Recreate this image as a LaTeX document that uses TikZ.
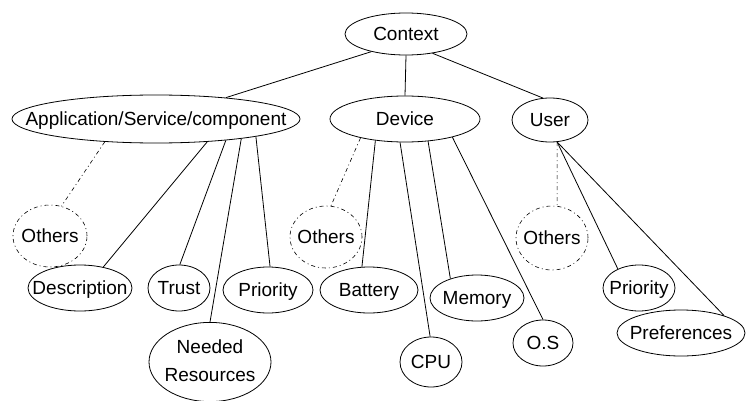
\documentclass[tikz,border=0pt]{standalone}
\usepackage{fontspec}
\setmainfont{Liberation Sans}
\usetikzlibrary{shapes.geometric}
\newcommand\zw[1]{\makebox[0pt][c]{#1}}
\begin{document}
\begin{tikzpicture}[x=1pt,y=-1pt,
  nd/.style={draw, ellipse, inner sep=0pt, line width=0.8pt, font=\fontsize{19}{28}\selectfont},
  one/.style={nd, text height=13.6pt, text depth=0pt},
  oth/.style={one, line width=0.6pt, dash pattern=on 4pt off 3pt on 1pt off 3pt},
  edge/.style={line width=0.8pt},
  dedge/.style={line width=0.6pt, dash pattern=on 4pt off 3pt on 1pt off 3pt}]
\useasboundingbox (0,0) rectangle (746,401);
% level 0
\node[one, minimum width=122pt, minimum height=42pt] (ctx) at (406,34) {\zw{Context}};
% level 1
\node[one, minimum width=288pt, minimum height=48pt] (app) at (156,119) {\zw{Application/Service/component}};
\node[one, minimum width=150pt, minimum height=46pt] (dev) at (405,119) {\zw{Device}};
\node[one, minimum width=76pt, minimum height=44pt] (usr) at (550,120) {\zw{User}};
% others
\node[oth, minimum width=74pt, minimum height=62pt] (oth1) at (50,236) {\zw{Others}};
\node[oth, minimum width=72pt, minimum height=62pt] (oth2) at (326,237) {\zw{Others}};
\node[oth, minimum width=72pt, minimum height=64pt] (oth3) at (552,238) {\zw{Others}};
% app children
\node[one, minimum width=104pt, minimum height=46pt] (desc) at (80,288) {\zw{Description}};
\node[one, minimum width=62pt, minimum height=46pt] (trust) at (179,288) {\zw{Trust}};
\node[one, minimum width=90pt, minimum height=46pt] (prio1) at (268,290) {\zw{Priority}};
\node[nd, minimum width=122pt, minimum height=76pt] (need) at (210,362) {\zw{\begin{tabular}{@{}c@{}}Needed\\Resources\end{tabular}}};
% device children
\node[one, minimum width=98pt, minimum height=46pt] (batt) at (369,290) {\zw{Battery}};
\node[one, minimum width=62pt, minimum height=50pt] (cpu) at (431,362) {\zw{CPU}};
\node[one, minimum width=94pt, minimum height=46pt] (mem) at (477,298) {\zw{Memory}};
\node[one, minimum width=60pt, minimum height=46pt] (os) at (543,343) {\zw{O.S}};
% user children
\node[one, minimum width=72pt, minimum height=46pt] (prio2) at (639,288) {\zw{Priority}};
\node[one, minimum width=128pt, minimum height=46pt] (pref) at (681,333) {\zw{Preferences}};
% edges level 0
\draw[edge] (ctx.207) -- (app.17);
\draw[edge] (ctx.270) -- (dev.90);
\draw[edge] (ctx.324) -- (usr.108);
% app edges
\draw[dedge] (app.204) -- (oth1.69);
\draw[edge] (app.336) -- (desc.42);
\draw[edge] (app.343) -- (trust.88);
\draw[edge] (app.347) -- (need.90);
\draw[edge] (app.350) -- (prio1.85);
% device edges
\draw[dedge] (dev.203) -- (oth2.81);
\draw[edge] (dev.216) -- (batt.107);
\draw[edge] (dev.258) -- (cpu.92);
\draw[edge] (dev.316) -- (mem.144);
\draw[edge] (dev.339) -- (os.90);
% user edges
\draw[dedge] (usr.288) -- (oth3.81);
\draw[edge] (usr.288) -- (prio2.138);
\draw[edge] (usr.288) -- (pref.22);
\end{tikzpicture}
\end{document}
